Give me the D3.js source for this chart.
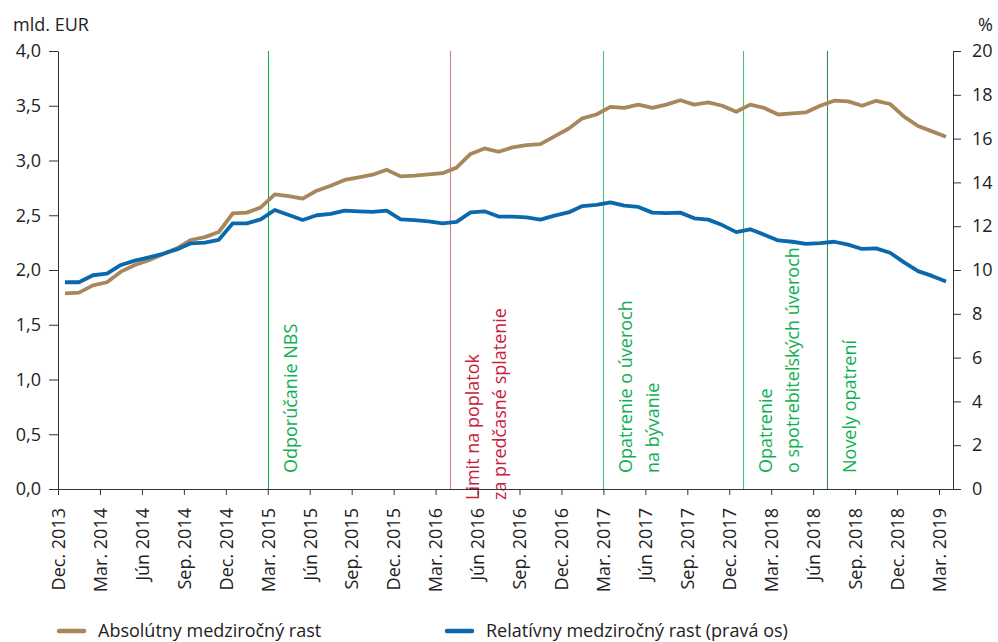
<!DOCTYPE html>
<html>
<head>
<meta charset="utf-8">
<script src="https://cdn.jsdelivr.net/npm/d3@7/dist/d3.min.js"></script>
<style>
  html, body { margin: 0; padding: 0; background: #fff; }
  svg text { font-family: "Open Sans", "Noto Sans", sans-serif; }
</style>
</head>
<body>
<svg id="chart" width="998" height="642"></svg>
<script>
// ---- data ----
const months = [
  "Dec. 2013",
  "Jan. 2014","Feb. 2014","Mar. 2014","Apr. 2014","Máj 2014","Jún 2014","Júl 2014","Aug. 2014","Sep. 2014","Okt. 2014","Nov. 2014","Dec. 2014",
  "Jan. 2015","Feb. 2015","Mar. 2015","Apr. 2015","Máj 2015","Jún 2015","Júl 2015","Aug. 2015","Sep. 2015","Okt. 2015","Nov. 2015","Dec. 2015",
  "Jan. 2016","Feb. 2016","Mar. 2016","Apr. 2016","Máj 2016","Jún 2016","Júl 2016","Aug. 2016","Sep. 2016","Okt. 2016","Nov. 2016","Dec. 2016",
  "Jan. 2017","Feb. 2017","Mar. 2017","Apr. 2017","Máj 2017","Jún 2017","Júl 2017","Aug. 2017","Sep. 2017","Okt. 2017","Nov. 2017","Dec. 2017",
  "Jan. 2018","Feb. 2018","Mar. 2018","Apr. 2018","Máj 2018","Jún 2018","Júl 2018","Aug. 2018","Sep. 2018","Okt. 2018","Nov. 2018","Dec. 2018",
  "Jan. 2019","Feb. 2019","Mar. 2019"
];
// Absolútny medziročný rast (mld. EUR, ľavá os)
const absolutny = [
  1.787,
  1.793,1.86,1.888,1.985,2.046,2.09,2.143,2.198,2.274,2.30,2.347,2.518,
  2.524,2.572,2.69,2.675,2.651,2.724,2.77,2.822,2.846,2.87,2.916,2.855,
  2.861,2.873,2.884,2.935,3.06,3.11,3.08,3.12,3.14,3.15,3.22,3.29,
  3.385,3.42,3.49,3.48,3.51,3.48,3.51,3.55,3.51,3.53,3.50,3.445,
  3.51,3.48,3.42,3.43,3.44,3.50,3.546,3.54,3.50,3.545,3.516,3.40,
  3.315,3.266,3.217
];
// Relatívny medziročný rast (%, pravá os)
const relativny = [
  9.44,
  9.44,9.76,9.83,10.23,10.43,10.58,10.74,10.94,11.22,11.25,11.38,12.13,
  12.13,12.31,12.74,12.51,12.28,12.5,12.56,12.71,12.68,12.65,12.71,12.31,
  12.28,12.22,12.13,12.2,12.63,12.68,12.44,12.44,12.4,12.3,12.48,12.63,
  12.92,12.97,13.09,12.94,12.88,12.62,12.6,12.62,12.36,12.3,12.05,11.73,
  11.86,11.61,11.35,11.29,11.19,11.23,11.29,11.16,10.96,10.99,10.79,10.35,
  9.95,9.73,9.47
];
const tickLabels = [
  "Dec. 2013","Mar. 2014","Jún 2014","Sep. 2014","Dec. 2014","Mar. 2015","Jún 2015","Sep. 2015",
  "Dec. 2015","Mar. 2016","Jún 2016","Sep. 2016","Dec. 2016","Mar. 2017","Jún 2017","Sep. 2017",
  "Dec. 2017","Mar. 2018","Jún 2018","Sep. 2018","Dec. 2018","Mar. 2019"
];
const leftTicks = [0, 0.5, 1, 1.5, 2, 2.5, 3, 3.5, 4];
const rightTicks = [0, 2, 4, 6, 8, 10, 12, 14, 16, 18, 20];
const eventMonths = ["Mar. 2015", "Apr. 2016", "Mar. 2017", "Jan. 2018", "Júl 2018"];
const eventTexts = [
  ["Odporúčanie NBS"],
  ["Limit na poplatok", "za predčasné splatenie"],
  ["Opatrenie o úveroch", "na bývanie"],
  ["Opatrenie", "o spotrebiteľských úveroch"],
  ["Novely opatrení"]
];
const eventKinds = ["green", "red", "light", "light", "dark"];
const seriesNames = ["Absolútny medziročný rast", "Relatívny medziročný rast (pravá os)"];

// ---- layout ----
const svg = d3.select("#chart");
const L = 58, R = 953, T = 51, B = 489;
const cBrown = "#a8875b", cBlue = "#0a69ad", axisCol = "#333";
const lineColors = { green: "#0fae55", light: "#4dbd78", red: "#d57f86", dark: "#3c8a56" };
const textColors = { green: "#0fb04f", light: "#0fb04f", red: "#c8203a", dark: "#0fb04f" };

const x = d3.scaleLinear().domain([0, months.length]).range([L, R]);
const yL = d3.scaleLinear().domain([0, 4]).range([B, T]);
const yR = d3.scaleLinear().domain([0, 20]).range([B, T]);

// event vertical lines
eventMonths.forEach((m, i) => {
  const xi = Math.round(x(months.indexOf(m))) + 0.5;
  svg.append("line")
    .attr("x1", xi).attr("x2", xi).attr("y1", T).attr("y2", B)
    .attr("stroke", lineColors[eventKinds[i]]).attr("stroke-width", 1.1);
  const yStart = eventKinds[i] === "red" ? 500 : 473;
  eventTexts[i].forEach((t, j) => {
    svg.append("text")
      .attr("transform", `translate(${xi + 22 + j * 27},${yStart}) rotate(-90)`)
      .attr("dy", "0.35em")
      .attr("font-size", 18)
      .attr("fill", textColors[eventKinds[i]])
      .text(t);
  });
});

// axes
const gL = svg.append("g").attr("transform", `translate(${L},0)`)
  .call(d3.axisLeft(yL).tickValues(leftTicks).tickSize(9).tickSizeOuter(0).tickPadding(8)
    .tickFormat(d => d.toFixed(1).replace(".", ",")));
const gR = svg.append("g").attr("transform", `translate(${R},0)`)
  .call(d3.axisRight(yR).tickValues(rightTicks).tickSize(8).tickSizeOuter(0).tickPadding(11));
const gB = svg.append("g").attr("transform", `translate(0,${B})`)
  .call(d3.axisBottom(x).tickValues(tickLabels.map(t => months.indexOf(t))).tickSize(6).tickSizeOuter(0)
    .tickFormat(i => months[i]));
gB.selectAll(".tick text")
  .attr("transform", "rotate(-90)")
  .attr("text-anchor", "end")
  .attr("x", -19).attr("y", 0).attr("dy", "0.35em");
[gL, gR, gB].forEach(g => {
  g.selectAll("path.domain").attr("stroke", axisCol);
  g.selectAll(".tick line").attr("stroke", axisCol);
  g.selectAll(".tick text").attr("font-size", 18).attr("fill", "#222")
    .attr("font-family", "'Open Sans', 'Noto Sans', sans-serif");
});

// unit labels
svg.append("text").attr("x", 13).attr("y", 31).attr("font-size", 18).attr("fill", "#222").text("mld. EUR");
svg.append("text").attr("x", 993).attr("y", 31).attr("font-size", 18).attr("fill", "#222")
  .attr("text-anchor", "end").text("%");

// lines
const lineL = d3.line().x((d, i) => x(i + 0.5)).y(d => yL(d));
const lineR = d3.line().x((d, i) => x(i + 0.5)).y(d => yR(d));
svg.append("path").datum(absolutny).attr("d", lineL)
  .attr("fill", "none").attr("stroke", cBrown).attr("stroke-width", 3.8).attr("stroke-linejoin", "round");
svg.append("path").datum(relativny).attr("d", lineR)
  .attr("fill", "none").attr("stroke", cBlue).attr("stroke-width", 3.8).attr("stroke-linejoin", "round");

// legend
const legend = [
  { name: seriesNames[0], color: cBrown, x: 59 },
  { name: seriesNames[1], color: cBlue, x: 447 }
];
legend.forEach(l => {
  svg.append("line").attr("x1", l.x).attr("x2", l.x + 25).attr("y1", 631).attr("y2", 631)
    .attr("stroke", l.color).attr("stroke-width", 4.5).attr("stroke-linecap", "round");
  svg.append("text").attr("x", l.x + 39).attr("y", 631).attr("dy", "0.35em")
    .attr("font-size", 18).attr("fill", "#222").text(l.name);
});
</script>
</body>
</html>
